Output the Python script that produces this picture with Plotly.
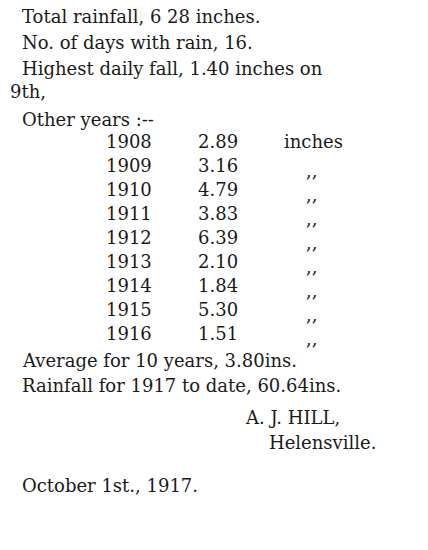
import plotly.graph_objects as go

years = ["1908", "1909", "1910", "1911", "1912", "1913", "1914", "1915", "1916"]
falls = ["2.89", "3.16", "4.79", "3.83", "6.39", "2.10", "1.84", "5.30", "1.51"]
units = ["inches", ",,", ",,", ",,", ",,", ",,", ",,", ",,", ",,"]

header = [
    ("Total rainfall, 6 28 inches.", 21, 14),
    ("No. of days with rain, 16.", 21, 40),
    ("Highest daily fall, 1.40 inches on", 21, 66),
    ("9th,", 0, 89),
    ("Other years :--", 21, 117),
]
footer = [
    ("Average for 10 years, 3.80ins.", 21, 358),
    ("Rainfall for 1917 to date, 60.64ins.", 21, 383),
    ("A. J. HILL,", 244, 415),
    ("Helensville.", 268, 440),
    ("October 1st., 1917.", 21, 483),
]

font = dict(family="DejaVu Serif", size=18, color="#1a1a1a")
dx, dy = -9, -6
fig = go.Figure()


def put(txt, x, y):
    return dict(text=txt, x=max(x + dx, 0), y=y + dy, xanchor="left", yanchor="middle",
                showarrow=False, font=font)


ann = [put(t, x, y) for t, x, y in header + footer]
for i, (yr, v, u) in enumerate(zip(years, falls, units)):
    y = 139 + i * 24
    ann.append(put(yr, 105, y))
    ann.append(put(v, 197, y))
    if u == "inches":
        ann.append(put(u, 283, y))
    else:
        ann.append(put(u, 305, y + 5))

fig.update_layout(
    width=428, height=550, margin=dict(l=0, r=0, t=0, b=0),
    paper_bgcolor="white", plot_bgcolor="white",
    xaxis=dict(range=[0, 428], visible=False, fixedrange=True),
    yaxis=dict(range=[550, 0], visible=False, fixedrange=True),
    annotations=ann, showlegend=False,
)
fig.write_html("out.html", config={"displayModeBar": False})
